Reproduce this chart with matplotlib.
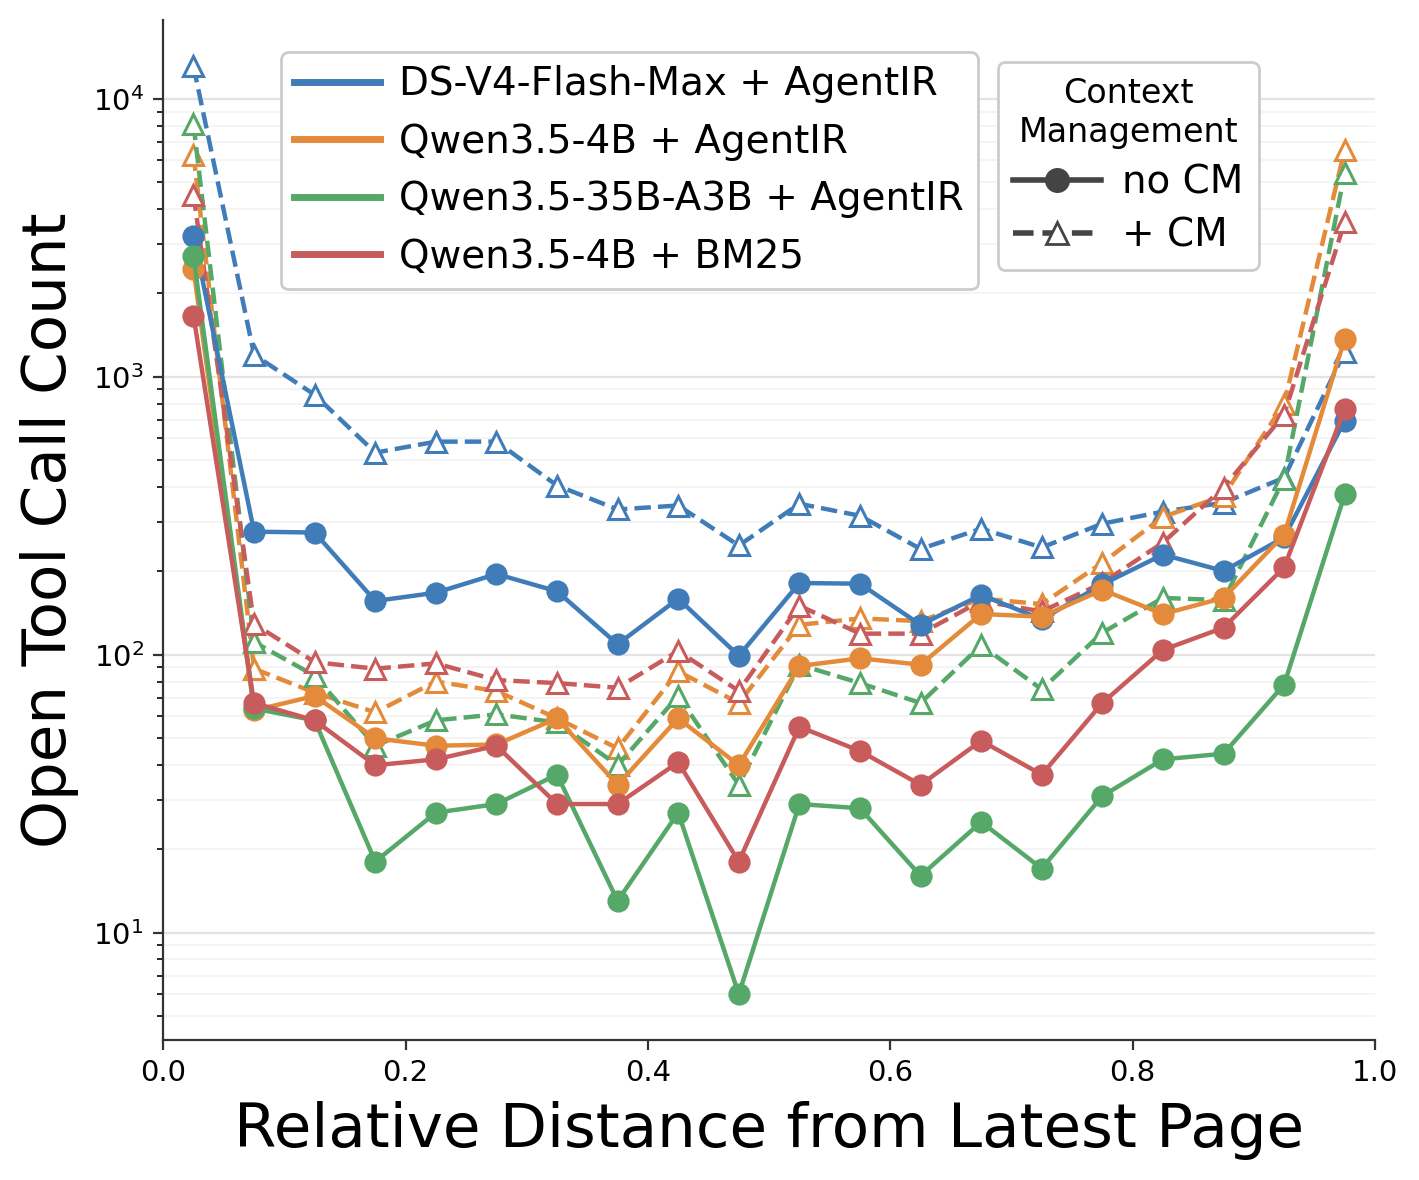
import numpy as np
import matplotlib.pyplot as plt
from matplotlib.lines import Line2D

# bin centres of relative distance
x = np.arange(0.025, 1.0, 0.05)

models = ['DS-V4-Flash-Max + AgentIR', 'Qwen3.5-4B + AgentIR',
          'Qwen3.5-35B-A3B + AgentIR', 'Qwen3.5-4B + BM25']
colors = ['#3f7cb8', '#e38b3a', '#55a868', '#c85c5c']

ds_no_cm = [3210, 277, 275, 156, 167, 195, 169, 109, 159, 99,
            181, 180, 128, 164, 134, 179, 229, 200, 264, 695]
ds_cm = [13100, 1200, 861, 533, 584, 584, 406, 333, 344, 247,
         349, 316, 240, 284, 243, 296, 327, 352, 433, 1230]
q4_no_cm = [2440, 63, 71, 50, 47, 47.5, 59, 34, 59, 40,
            91, 97, 92, 140, 137, 171, 140, 160, 270, 1370]
q4_cm = [6300, 89, 73, 62, 80, 74, 59, 46, 87, 67,
         128, 135, 132, 159, 152, 214, 313, 373, 800, 6560]
q35_no_cm = [2720, 64, 58, 18, 27, 29, 37, 13, 27, 6,
             29, 28, 16, 25, 17, 31, 42, 44, 78, 377]
q35_cm = [8130, 111, 84, 47, 58, 61, 57, 40, 71, 34,
          92, 79, 67, 108, 75, 120, 160, 157, 430, 5420]
bm25_no_cm = [1660, 67, 58, 40, 42, 47, 29, 29, 41, 18,
              55, 45, 34, 49, 37, 67, 104, 125, 206, 767]
bm25_cm = [4520, 129, 94, 89, 93, 81, 79, 76, 103, 74,
           150, 119, 119, 156, 143, 181, 253, 399, 730, 3610]

no_cm = [ds_no_cm, q4_no_cm, q35_no_cm, bm25_no_cm]
with_cm = [ds_cm, q4_cm, q35_cm, bm25_cm]

fig = plt.figure(figsize=(7.095, 5.9), dpi=200)
ax = fig.add_axes([0.115, 0.119, 0.854, 0.864])

for c, a, b in zip(colors, no_cm, with_cm):
    ax.plot(x, b, ls='--', color=c, lw=1.6, marker='^', ms=7,
            mfc='white', mec=c, mew=1.1, zorder=3)
    ax.plot(x, a, ls='-', color=c, lw=1.6, marker='o', ms=7,
            mec=c, zorder=4)

ax.set_yscale('log')
ax.set_xlim(0, 1)
ax.set_ylim(4.12, 19200)
ax.grid(True, which='major', axis='y', color='#e3e3e3', lw=0.8)
ax.grid(True, which='minor', axis='y', color='#f2f2f2', lw=0.6)
ax.set_axisbelow(True)
for s in ['top', 'right']:
    ax.spines[s].set_visible(False)
for s in ['left', 'bottom']:
    ax.spines[s].set_color('#333333')
ax.tick_params(labelsize=10.5, colors='#333333', labelcolor='black')
ax.set_xticks([0.0, 0.2, 0.4, 0.6, 0.8, 1.0])

ax.set_xlabel('Relative Distance from Latest Page', fontsize=22, labelpad=5)
ax.set_ylabel('Open Tool Call Count', fontsize=22, labelpad=5)

h1 = [Line2D([], [], color=c, lw=2.5) for c in colors]
leg1 = ax.legend(h1, models, fontsize=14, loc='upper left',
                 bbox_to_anchor=(0.081, 0.988), frameon=True,
                 handlelength=2.2, handletextpad=0.5, borderpad=0.35,
                 labelspacing=0.5, edgecolor='#cccccc', framealpha=1)
ax.add_artist(leg1)
h2 = [Line2D([], [], color='#444444', lw=2, ls='-', marker='o', ms=8),
      Line2D([], [], color='#444444', lw=2, ls='--', marker='^', ms=8,
             mfc='white', mec='#444444')]
leg2 = ax.legend(h2, ['no CM', '+ CM'], title='Context\nManagement',
                 fontsize=14, title_fontsize=12, loc='upper left',
                 bbox_to_anchor=(0.6725, 0.978), frameon=True,
                 handlelength=2.25, handletextpad=0.55, borderpad=0.4,
                 labelspacing=0.38, edgecolor='#cccccc', framealpha=1)
leg2.get_title().set_multialignment('center')

fig.savefig('out.png', dpi=200)
